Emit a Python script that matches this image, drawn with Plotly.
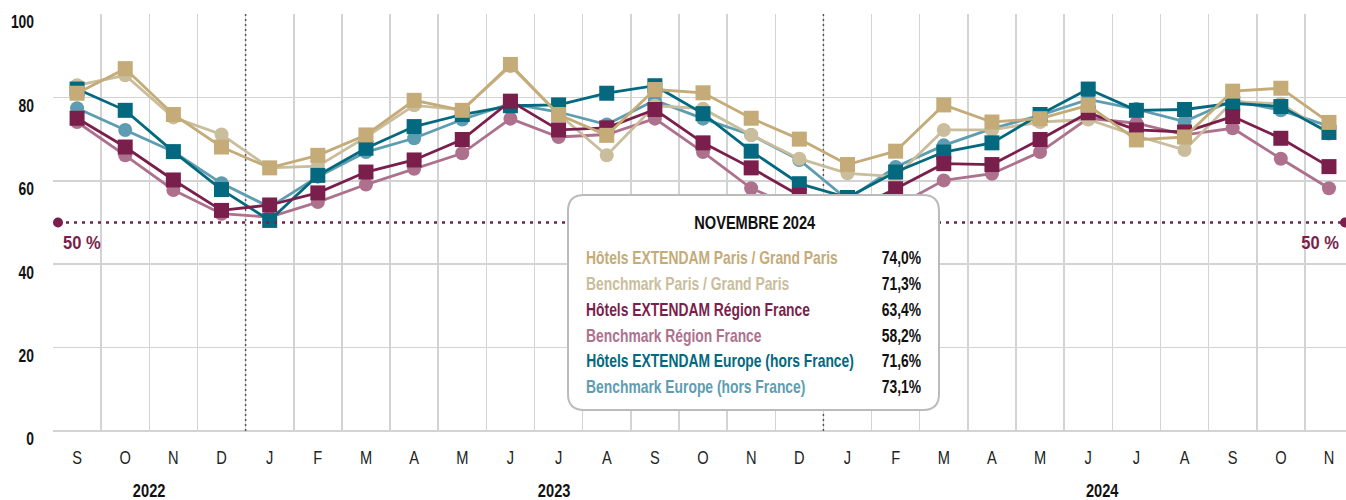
import plotly.graph_objects as go

months = ["S", "O", "N", "D", "J", "F", "M", "A", "M", "J", "J", "A", "S", "O", "N",
          "D", "J", "F", "M", "A", "M", "J", "J", "A", "S", "O", "N"]
years = ["2022", "2023", "2024"]
year_pos = [1.5, 9.9, 21.3]

names = [
    "Hôtels EXTENDAM Paris / Grand Paris",
    "Benchmark Paris / Grand Paris",
    "Hôtels EXTENDAM Région France",
    "Benchmark Région France",
    "Hôtels EXTENDAM Europe (hors France)",
    "Benchmark Europe (hors France)",
]

paris_ext = [81.0, 86.9, 75.9, 68.1, 63.1, 66.1, 71.0, 79.3, 76.9, 87.9, 75.9, 70.9, 81.9, 81.1,
             75.0, 70.0, 63.9, 67.1, 78.2, 74.1, 74.9, 78.1, 69.8, 70.5, 81.5, 82.2, 74.0]
paris_bench = [82.9, 85.3, 75.2, 71.1, 63.1, 63.5, 70.5, 78.1, 77.0, 87.5, 76.0, 66.1, 78.0, 77.3,
               71.0, 65.3, 61.8, 61.0, 72.2, 72.2, 74.1, 74.7, 70.8, 67.4, 79.0, 78.5, 71.3]
region_ext = [75.0, 68.1, 60.2, 52.9, 54.2, 57.1, 62.1, 65.0, 69.9, 79.1, 72.2, 72.7, 77.1, 69.1,
              63.1, 56.5, 52.5, 58.1, 64.1, 63.9, 69.9, 76.3, 72.2, 71.7, 75.4, 70.2, 63.4]
region_bench = [74.1, 66.1, 57.8, 52.1, 51.3, 54.9, 59.1, 62.9, 66.6, 74.9, 70.5, 71.1, 74.9, 66.9,
                58.2, 53.3, 51.0, 53.8, 60.1, 61.7, 66.9, 75.0, 73.8, 71.0, 72.6, 65.3, 58.2]
europe_ext = [82.0, 76.9, 67.0, 57.9, 50.5, 61.3, 67.8, 73.0, 75.9, 78.0, 78.2, 81.0, 82.8, 76.1,
              67.1, 59.3, 56.0, 62.1, 66.9, 69.1, 75.9, 82.0, 76.9, 77.1, 78.6, 77.8, 71.6]
europe_bench = [77.4, 72.2, 67.0, 59.4, 53.7, 61.0, 66.9, 70.2, 74.7, 78.5, 76.5, 73.5, 79.3, 74.9,
                71.0, 65.0, 55.5, 63.3, 68.5, 72.5, 75.7, 79.5, 77.2, 74.2, 79.3, 76.9, 73.1]

colors = ["#C4AB77", "#C9BD9C", "#7A1F4C", "#AD718E", "#04687F", "#5E9DB1"]
series = [paris_ext, paris_bench, region_ext, region_bench, europe_ext, europe_bench]
symbols = ["square", "circle", "square", "circle", "square", "circle"]

tooltip_title = "NOVEMBRE 2024"
threshold = 50
threshold_label = "50 %"

FONT = "Liberation Sans, Arial, sans-serif"

W, H = 1346, 500
ML, MR, MT, MB = 53, 0, 14, 69
PW, PH = W - ML - MR, H - MT - MB
step = 48.15
x_range = [-0.5, -0.5 + PW / step]

def px_x(px):
    return (px - ML) / PW

def px_y(py):
    return (H - MB - py) / PH

fig = go.Figure()

# draw order: benchmarks first, then hotels (Europe, Region, Paris on top)
order = [5, 3, 1, 4, 2, 0]
xs = list(range(len(months)))
for i in order:
    fig.add_trace(go.Scatter(
        x=xs, y=series[i], mode="lines+markers", name=names[i],
        line=dict(color=colors[i], width=2.8),
        marker=dict(symbol=symbols[i], size=15 if symbols[i] == "square" else 14,
                    color=colors[i], line=dict(width=0)),
        showlegend=False, hoverinfo="skip",
    ))

shapes = []
for xv in [3.5, 15.5]:
    shapes.append(dict(type="line", xref="x", yref="y", x0=xv, x1=xv, y0=0, y1=100,
                       line=dict(color="#555555", width=1.5, dash="2px,3px"), layer="between"))
shapes.append(dict(type="line", xref="paper", yref="y", x0=px_x(58), x1=1.0, y0=threshold, y1=threshold,
                   line=dict(color="#7A1F4C", width=2.5, dash="3px,5px")))
for xp in [58, 1345]:
    shapes.append(dict(type="circle", xref="paper", yref="y", xsizemode="pixel", ysizemode="pixel",
                       xanchor=px_x(xp), yanchor=threshold, x0=-5, x1=5, y0=-5, y1=5,
                       fillcolor="#7A1F4C", line=dict(width=0)))

bx0, bx1, by0, by1, r = 568, 939, 195, 410, 16
def P(x, y):
    return f"{px_x(x):.5f},{px_y(y):.5f}"
path = (f"M {P(bx0 + r, by0)} L {P(bx1 - r, by0)} Q {P(bx1, by0)} {P(bx1, by0 + r)} "
        f"L {P(bx1, by1 - r)} Q {P(bx1, by1)} {P(bx1 - r, by1)} "
        f"L {P(bx0 + r, by1)} Q {P(bx0, by1)} {P(bx0, by1 - r)} "
        f"L {P(bx0, by0 + r)} Q {P(bx0, by0)} {P(bx0 + r, by0)} Z")
shapes.append(dict(type="path", xref="paper", yref="paper", path=path,
                   fillcolor="white", line=dict(color="#BBBBBB", width=2), layer="above"))

annotations = []
annotations.append(dict(xref="paper", yref="paper", x=px_x(755), y=px_y(222), text=f"<b>{tooltip_title}</b>",
                        showarrow=False, xanchor="center", yanchor="middle",
                        font=dict(family=FONT, size=19, color="#111111")))
row_y = [258, 284, 310, 336, 361, 387]
for k in range(6):
    v = series[k][-1]
    annotations.append(dict(xref="paper", yref="paper", x=px_x(584), y=px_y(row_y[k]),
                            text=f"<b>{names[k]}</b>", showarrow=False, xanchor="left", yanchor="middle",
                            font=dict(family=FONT, size=18, color=colors[k])))
    annotations.append(dict(xref="paper", yref="paper", x=px_x(923), y=px_y(row_y[k]),
                            text=f"<b>{v:.1f}%</b>".replace(".", ","), showarrow=False,
                            xanchor="right", yanchor="middle",
                            font=dict(family=FONT, size=18, color="#111111")))

annotations.append(dict(xref="paper", yref="paper", x=px_x(61), y=px_y(243), text=f"<b>{threshold_label}</b>",
                        showarrow=False, xanchor="left", yanchor="middle", name="wide",
                        font=dict(family=FONT, size=18, color="#7A1F4C")))
annotations.append(dict(xref="paper", yref="paper", x=px_x(1341), y=px_y(243), text=f"<b>{threshold_label}</b>",
                        showarrow=False, xanchor="right", yanchor="middle", name="wide",
                        font=dict(family=FONT, size=18, color="#7A1F4C")))
for yl, xp in zip(years, year_pos):
    annotations.append(dict(xref="x", yref="paper", x=xp, y=px_y(490), text=f"<b>{yl}</b>",
                            showarrow=False, xanchor="center", yanchor="middle",
                            font=dict(family=FONT, size=19, color="#111111")))

fig.update_layout(
    width=W, height=H,
    margin=dict(l=ML, r=MR, t=MT, b=MB, autoexpand=False),
    paper_bgcolor="white", plot_bgcolor="white",
    shapes=shapes, annotations=annotations,
    font=dict(family=FONT, color="#111111"),
)
fig.update_xaxes(
    range=x_range, tickmode="array", tickvals=xs, ticktext=months, automargin=False,
    showgrid=False, zeroline=False, showline=False, ticks="",
    tickfont=dict(family=FONT, size=19, color="#222222"), ticklabelstandoff=13,
    minor=dict(tickmode="array", tickvals=[i - 0.5 for i in range(len(months) + 1)],
               showgrid=True, gridcolor="#D3D3D3", gridwidth=1.5, ticks=""),
)
fig.update_yaxes(
    range=[0, 100], tickmode="array", tickvals=[0, 20, 40, 60, 80, 100], automargin=False,
    showgrid=True, gridcolor="#D3D3D3", gridwidth=1.5, zeroline=True, zerolinecolor="#D3D3D3",
    zerolinewidth=1.5, showline=False, ticks="",
    tickfont=dict(family=FONT, size=18, color="#111111", weight="bold"),
    ticklabelstandoff=18, ticklabelshift=8,
)

post_js = """
(function(){
  document.documentElement.style.margin = '0';
  document.documentElement.style.padding = '0';
  document.body.style.margin = '0';
  document.body.style.padding = '0';
  document.body.style.overflow = 'hidden';
  var gd = document.getElementById('{plot_id}');
  if (!gd) return;
  function sq(el, s, mode){
    if (el.getAttribute('data-sq')) return;
    var bb = el.getBBox();
    var px = mode === 'left' ? bb.x : (mode === 'right' ? bb.x + bb.width : bb.x + bb.width / 2);
    var old = el.getAttribute('transform') || '';
    el.setAttribute('transform', old + ' translate(' + px + ',0) scale(' + s + ',1) translate(' + (-px) + ',0)');
    el.setAttribute('data-sq', '1');
  }
  function run(){
    gd.querySelectorAll('.xtick text').forEach(function(e){ sq(e, 0.77, 'middle'); });
    gd.querySelectorAll('.ytick text').forEach(function(e){ sq(e, 0.77, 'right'); });
    var anns = gd._fullLayout.annotations;
    gd.querySelectorAll('g.annotation').forEach(function(g){
      var i = +g.getAttribute('data-index');
      var a = anns[i];
      var t = g.querySelector('text.annotation-text');
      if (!t || !a) return;
      var s = (a.name === 'wide') ? 0.92 : 0.77;
      sq(t, s, a.xanchor === 'left' ? 'left' : (a.xanchor === 'right' ? 'right' : 'middle'));
    });
  }
  run();
  gd.on('plotly_afterplot', run);
})();
"""

fig.write_html("out.html", post_script=post_js, config={"displayModeBar": False, "staticPlot": True})
